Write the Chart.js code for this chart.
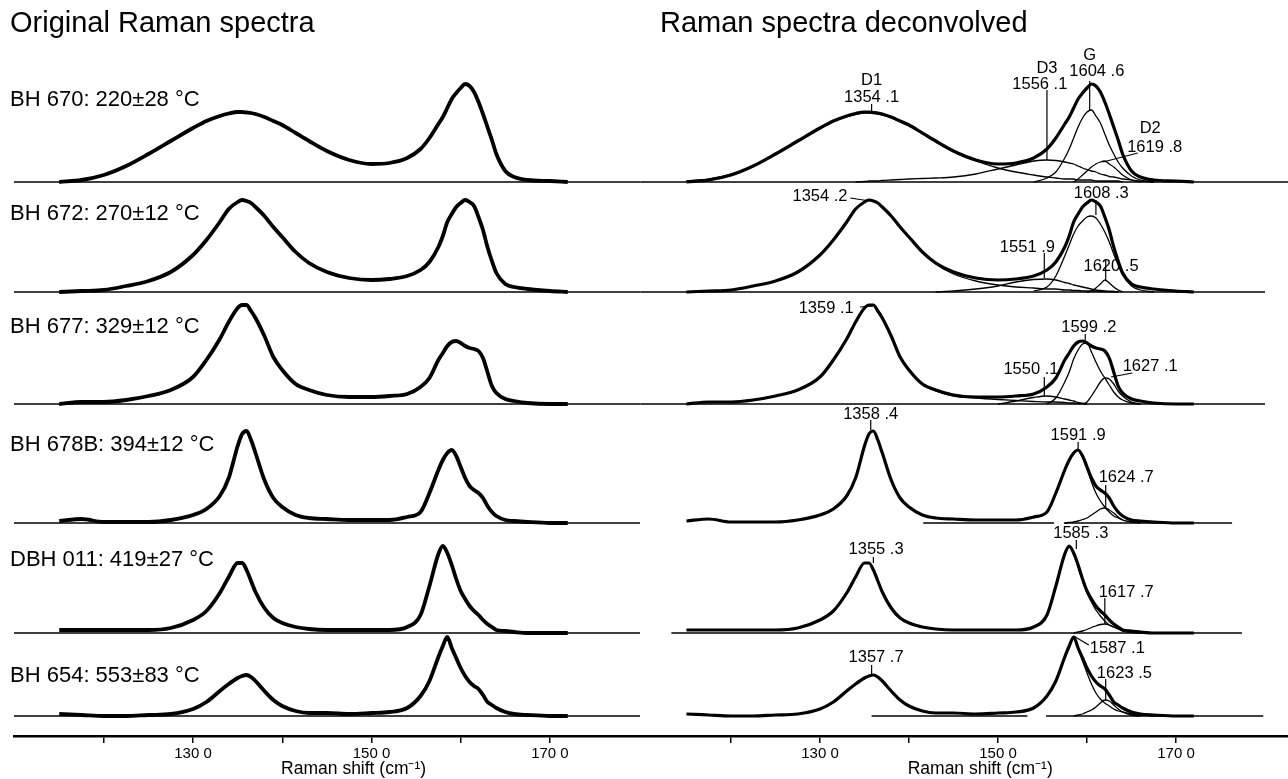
<!DOCTYPE html>
<html>
<head>
<meta charset="utf-8">
<script src="https://cdn.jsdelivr.net/npm/chart.js@4.4.1/dist/chart.umd.min.js"></script>
<style>
  body { margin: 0; background: #fff; width: 1288px; height: 779px; overflow: hidden; position: relative; }
  canvas { position: absolute; top: 0; }
  #left { left: 0; }
  #right { left: 640px; }
</style>
</head>
<body>
<canvas id="left" width="640" height="779"></canvas>
<canvas id="right" width="648" height="779"></canvas>
<script>
// Raman spectra of six samples. Intensities are arbitrary
// units above each spectrum's own baseline.
const wavenumbers = [1150, 1175, 1200, 1225, 1250, 1275, 1300, 1315, 1330, 1340, 1350, 1355, 1360, 1365, 1370, 1380, 1390, 1400, 1415, 1430, 1450, 1475, 1500, 1520, 1540, 1555, 1565, 1575, 1580, 1585, 1590, 1595, 1600, 1605, 1610, 1615, 1620, 1625, 1630, 1635, 1640, 1650, 1660, 1675, 1700, 1720];

const sampleNames = ['BH 670: 220±28 °C', 'BH 672: 270±12 °C', 'BH 677: 329±12 °C', 'BH 678B: 394±12 °C', 'DBH 011: 419±27 °C', 'BH 654: 553±83 °C'];

const bh670 = [0, 2, 7, 16, 28, 41, 54, 61, 66, 68.5, 70, 70, 69.5, 69, 68, 65, 61, 57, 49, 41, 31, 22, 18, 19, 24, 33, 44, 58, 65, 74, 83, 89, 94, 98, 96, 90, 80, 68, 55, 42, 28, 11, 5, 2, 1, 0];
const bh672 = [0, 1, 2, 6, 11, 20, 37, 52, 70, 83, 90, 92, 91, 89, 85, 76, 65, 55, 40, 29, 20, 14, 12, 13, 16, 22, 30, 45, 56, 70, 78, 85, 89, 92, 90, 86, 75, 62, 45, 31, 19, 8, 5, 3, 1, 0];
const bh677 = [0, 2, 2, 4, 8, 14, 27, 44, 65, 82, 96, 99, 99, 93, 86, 68, 47, 34, 20, 14, 9, 7, 7, 8, 10, 17, 26, 44, 51, 58, 62, 63, 61, 58, 56, 55, 53, 46, 32, 18, 11, 5, 3, 1, 0, 0];
const bh678b = [2, 4, 1, 1, 1, 3, 8, 14, 27, 45, 77, 89, 92, 83, 70, 43, 25, 16, 8, 5, 4, 3, 3, 3, 6, 11, 30, 53, 63, 70, 73, 67, 56, 45, 37, 33, 30, 25, 17, 11, 7, 3, 2, 1, 0, 0];
const dbh011 = [3, 3, 3, 3, 3, 5, 13, 22, 40, 56, 70, 70, 63, 52, 41, 25, 15, 10, 6, 4, 3, 3, 3, 3, 6, 18, 47, 79, 87, 80, 68, 54, 42, 34, 27, 22, 18, 13, 9, 6, 3, 2, 1, 0, 0, 0];
const bh654 = [2, 1, 0, 0, 1, 2, 7, 14, 25, 32, 38, 40, 41, 39, 35, 25, 16, 10, 5, 3, 3, 2, 3, 4, 8, 20, 35, 59, 70, 79, 68, 58, 48, 40, 34, 30, 27, 21, 14, 11, 8, 4, 2, 1, 0, 0];
const spectra = [bh670, bh672, bh677, bh678b, dbh011, bh654];

// fitted bands: values start at the given wavenumber of the grid
function from(start, vals) {
  const k0 = wavenumbers.indexOf(start);
  return wavenumbers.map((w, i) => (i >= k0 && i - k0 < vals.length) ? vals[i - k0] : null);
}
const d1BH670 = from(1150, [1, 3, 8, 16, 27, 40, 53, 60, 65, 67.5, 69, 69, 68.5, 68, 67, 64, 60, 56, 48, 40, 30, 21, 14, 10, 7, 5, 4, 3, 3, 3, 2, 2, 2, 2, 1, 1, 1, 1, 1, 1, 0]);
const d3BH670 = from(1340, [0, 0.5, 1, 1, 1, 1.5, 2, 2.5, 3, 3.5, 4, 5, 8, 13, 17, 21, 22, 21.5, 20, 19, 18, 16, 14, 12.5, 11, 10, 8, 7, 5.5, 5, 4, 3, 2, 1, 0]);
const gBH670 = from(1540, [0, 4, 10, 24, 33, 44, 55, 64, 70, 72, 66, 59, 48, 37, 28, 20, 14, 6, 2, 0]);
const d2BH670 = from(1585, [0, 3, 7, 11, 15, 18, 20, 21, 18, 15, 11, 7, 2, 0]);

const d1BH672 = from(1150, [0, 1, 2, 6, 11, 20, 37, 52, 70, 83, 90, 92, 91, 89, 85, 76, 65, 55, 40, 28, 18, 11, 7, 5, 4, 3, 3, 2, 2, 1.5, 1.5, 1, 1, 1, 1, 0.5, 0.5, 0.5, 0.5, 0]);
const d3BH672 = from(1430, [0, 1, 3, 6, 10, 12.5, 13, 12, 9.5, 8.5, 7, 6, 5, 4, 3, 2, 1.5, 1, 0.5, 0.5, 0]);
const gBH672 = from(1540, [1, 5, 16, 36, 47, 58, 66, 71, 75, 76, 74, 68, 60, 50, 38, 27, 17, 6, 2, 0]);
const d2BH672 = from(1600, [0, 1, 4, 8, 12, 9, 5, 2, 0]);

const d1BH677 = from(1150, [0, 2, 2, 4, 8, 14, 27, 44, 65, 82, 96, 99, 99, 93, 86, 68, 47, 34, 20, 13, 8, 6, 4.5, 3.5, 2.5, 2, 2, 1.5, 1, 1, 0.5, 0.5, 0]);
const d3BH677 = from(1500, [0, 3, 6.5, 8, 7, 5, 4, 3, 1.5, 0.5, 0]);
const gBH677 = from(1555, [0, 6, 22, 32, 45, 54, 60, 61, 52, 42, 33, 26, 19, 12, 7, 4, 1, 0]);
const d2BH677 = from(1595, [0, 2, 8, 15, 22, 26, 25, 20, 13, 8, 2, 0]);

const gBH678b = from(1540, [5, 11, 30, 53, 63, 70, 73, 66, 54, 41, 30, 22, 16, 11, 7, 5, 3, 1, 0]);
const d2BH678b = from(1575, [0, 0.5, 1, 2, 3.5, 5, 8, 11, 14, 15, 13, 10, 6, 3, 1, 0]);

const gDBH011 = from(1540, [6, 18, 46, 78, 86, 79, 66, 52, 40, 31, 23, 17, 12, 8, 6, 4, 2, 1, 0]);
const d2DBH011 = from(1585, [0, 1, 2, 3.5, 5.5, 7, 8.5, 9, 8, 6, 4, 2.5, 0.5, 0]);

const gBH654 = from(1540, [8, 20, 35, 59, 70, 79, 67, 55, 43, 32, 23, 17, 13, 10, 7, 5, 4, 2, 1, 0]);
const d2BH654 = from(1585, [0, 1, 2, 4, 6, 9, 13, 16, 15, 11, 7, 4, 1, 0]);

const components = [
  [d1BH670, d3BH670, gBH670, d2BH670],
  [d1BH672, d3BH672, gBH672, d2BH672],
  [d1BH677, d3BH677, gBH677, d2BH677],
  [gBH678b, d2BH678b],
  [gDBH011, d2DBH011],
  [gBH654, d2BH654]
];

// baseline pieces under the deconvolved spectra (start, end in cm-1)
const fitBaselines = [
  [[1098, 1826]],
  [[1098, 1800]],
  [[1098, 1800]],
  [[1416, 1563], [1574, 1763]],
  [[1133, 1774]],
  [[1358, 1533], [1554, 1798]]
];

const tickValues = [1200, 1300, 1400, 1500, 1600, 1700];
const tickLabels = ['', '130 0', '', '150 0', '', '170 0'];

// peak annotations: row, text, wavenumber, height
const peakLabels = [
  [0, 'D1', 1358, 102], [0, '1354 .1', 1358, 85],
  [0, 'D3', 1555, 114], [0, '1556 .1', 1547, 98],
  [0, 'G', 1603, 127], [0, '1604 .6', 1611, 111],
  [0, 'D2', 1671, 54], [0, '1619 .8', 1676, 35],
  [1, '1354 .2', 1300, 96], [1, '1608 .3', 1616, 99], [1, '1551 .9', 1533, 45], [1, '1620 .5', 1627, 26],
  [2, '1359 .1', 1307, 96], [2, '1599 .2', 1602, 77], [2, '1550 .1', 1537, 35], [2, '1627 .1', 1671, 38],
  [3, '1358 .4', 1357, 109], [3, '1591 .9', 1590, 88], [3, '1624 .7', 1644, 46],
  [4, '1585 .3', 1593, 100], [4, '1355 .3', 1363, 84], [4, '1617 .7', 1644, 41],
  [5, '1587 .1', 1634, 68], [5, '1357 .7', 1363, 59], [5, '1623 .5', 1642, 43]
];
const leaderLines = [
  [0, 1358, 78, 1358, 69], [0, 1555, 92, 1555, 22], [0, 1603, 101, 1603, 72], [0, 1657, 29, 1618, 20],
  [1, 1334, 94, 1356, 91], [1, 1610, 92, 1610, 77], [1, 1552, 39, 1552, 14], [1, 1621, 32, 1621, 12],
  [2, 1345, 97, 1360, 98], [2, 1598, 70, 1598, 62], [2, 1552, 27, 1552, 8], [2, 1651, 31, 1627, 27],
  [3, 1357, 103, 1357, 93], [3, 1590, 81, 1590, 73], [3, 1621, 38, 1621, 15],
  [4, 1588, 93, 1588, 84], [4, 1360, 76, 1360, 70], [4, 1620, 35, 1620, 9],
  [5, 1602, 71, 1585, 80], [5, 1358, 51, 1358, 42], [5, 1621, 37, 1621, 16]
];

// ---- layout ----
const FONT = "'Liberation Sans', Arial, sans-serif";
const bandPx = [150, 110, 112, 119, 110, 95];   // height of each row band, top to bottom
const bandFloor = [-8, -8, -8, -8, -8, -20];
const nameHeight = [82, 78, 77, 78, 73, 40];
const axisTitleAt = 1480;   // the axis caption sits a little right of centre

function points(vals) {
  return wavenumbers.map((w, i) => ({ x: w, y: vals[i] }));
}
function segment(a, b) {
  return [{ x: a, y: 0 }, { x: b, y: 0 }];
}

function makeScales(xMin, xMax) {
  const scales = {
    x: {
      type: 'linear', position: 'bottom', min: xMin, max: xMax,
      afterFit: s => { s.height = 43; },
      afterBuildTicks: s => { s.ticks = tickValues.map(v => ({ value: v })); },
      ticks: {
        autoSkip: false, maxRotation: 0, padding: 2, color: '#000',
        font: { family: FONT, size: 15 },
        callback: (v, i) => tickLabels[i]
      },
      grid: { drawOnChartArea: false, drawTicks: true, tickLength: 7, color: '#000', lineWidth: 1.5 },
      border: { display: true, color: '#000', width: 2.5 }
    }
  };
  // bottom row first so the first row ends up on top of the stack
  for (let r = 5; r >= 0; r--) {
    scales['r' + r] = {
      type: 'linear', position: 'left', stack: 'rows', stackWeight: bandPx[r],
      min: bandFloor[r], max: bandFloor[r] + bandPx[r],
      ticks: { display: false }, grid: { display: false }, border: { display: false },
      afterFit: s => { s.width = 0; }
    };
  }
  return scales;
}

function line(data, row, width) {
  return {
    data: data, yAxisID: 'r' + row, borderColor: '#000', borderWidth: width,
    pointRadius: 0, cubicInterpolationMode: 'monotone', clip: false, spanGaps: false
  };
}

function annotator(cfg) {
  return {
    id: 'annotate',
    afterDatasetsDraw(chart) {
      const ctx = chart.ctx;
      const x = chart.scales.x;
      ctx.save();
      ctx.fillStyle = '#000';
      ctx.strokeStyle = '#000';
      ctx.textBaseline = 'middle';
      ctx.textAlign = 'left';
      ctx.font = '29px ' + FONT;
      ctx.fillText(cfg.title, cfg.titleX, 24);
      // axis caption
      ctx.textAlign = 'center';
      ctx.font = '17.5px ' + FONT;
      ctx.fillText('Raman shift (cm⁻¹)', x.getPixelForValue(axisTitleAt), 769);
      ctx.textAlign = 'left';
      if (cfg.names) {
        ctx.font = '22px ' + FONT;
        cfg.names.forEach((n, r) => {
          ctx.fillText(n, 10, chart.scales['r' + r].getPixelForValue(nameHeight[r]));
        });
      }
      if (cfg.peaks) {
        ctx.font = '16.5px ' + FONT;
        ctx.textAlign = 'center';
        cfg.peaks.forEach(([r, t, wx, h]) => {
          ctx.fillText(t, x.getPixelForValue(wx), chart.scales['r' + r].getPixelForValue(h));
        });
        ctx.lineWidth = 1.2;
        cfg.leaders.forEach(([r, x1, h1, x2, h2]) => {
          const y = chart.scales['r' + r];
          ctx.beginPath();
          ctx.moveTo(x.getPixelForValue(x1), y.getPixelForValue(h1));
          ctx.lineTo(x.getPixelForValue(x2), y.getPixelForValue(h2));
          ctx.stroke();
        });
      }
      ctx.restore();
    }
  };
}

const common = {
  responsive: false, animation: false, events: [],
  plugins: { legend: { display: false }, tooltip: { enabled: false }, title: { display: false } }
};

// left: original spectra
const leftMin = 1099.3, leftMax = 1801;
const leftSets = [];
spectra.forEach((s, r) => {
  leftSets.push(line(segment(leftMin, leftMax), r, 1.5));
  leftSets.push(line(points(s), r, 3.8));
});
new Chart(document.getElementById('left'), {
  type: 'line',
  data: { datasets: leftSets },
  options: Object.assign({}, common, {
    layout: { padding: { left: 14, right: 0, top: 40, bottom: 0 } },
    scales: makeScales(leftMin, leftMax)
  }),
  plugins: [annotator({ title: 'Original Raman spectra', titleX: 10, names: sampleNames })]
});

// right: deconvolved spectra
const rightMin = 1097.8, rightMax = 1825.8;
const rightSets = [];
spectra.forEach((s, r) => {
  fitBaselines[r].forEach(([a, b]) => rightSets.push(line(segment(a, b), r, 1.5)));
  rightSets.push(line(points(s), r, 3.2));
  components[r].forEach(c => rightSets.push(line(points(c), r, 1.3)));
});
new Chart(document.getElementById('right'), {
  type: 'line',
  data: { datasets: rightSets },
  options: Object.assign({}, common, {
    layout: { padding: { left: 0, right: 0, top: 40, bottom: 0 } },
    scales: makeScales(rightMin, rightMax)
  }),
  plugins: [annotator({ title: 'Raman spectra deconvolved', titleX: 20, peaks: peakLabels, leaders: leaderLines })]
});
</script>
</body>
</html>
